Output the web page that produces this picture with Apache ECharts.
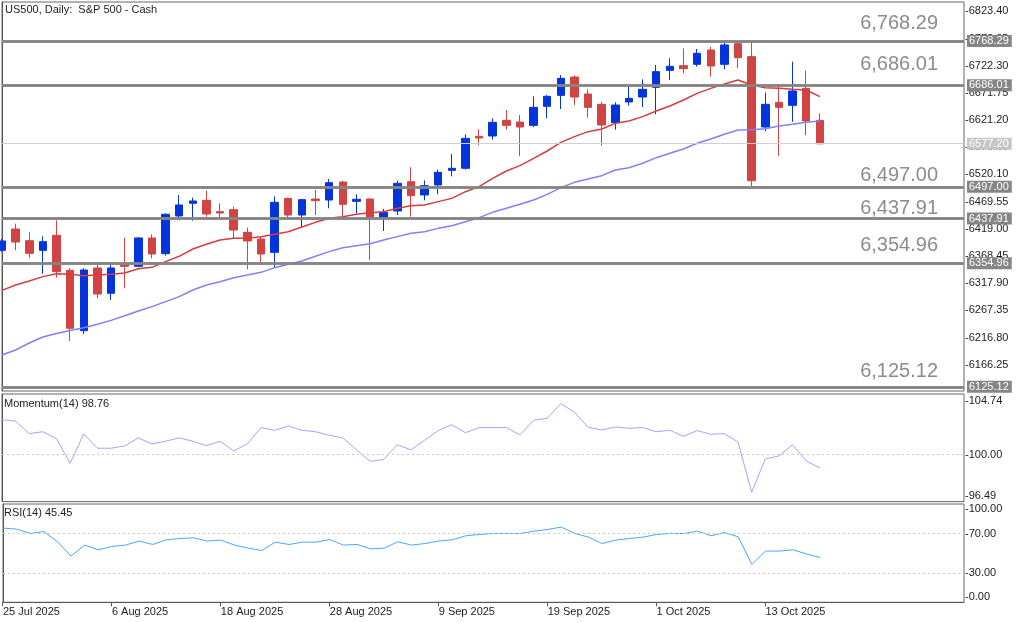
<!DOCTYPE html>
<html>
<head>
<meta charset="utf-8">
<title>US500, Daily</title>
<script src="https://cdn.jsdelivr.net/npm/echarts@6/dist/echarts.min.js"></script>
<style>
  html, body { margin: 0; padding: 0; background: #fff; }
  #chart { width: 1024px; height: 623px; }
</style>
</head>
<body>
<div id="chart"></div>
<script>
// one entry per daily bar
var days = [
  '25 Jul 2025', '28 Jul 2025', '29 Jul 2025', '30 Jul 2025', '31 Jul 2025', '1 Aug 2025',
  '4 Aug 2025', '5 Aug 2025', '6 Aug 2025', '7 Aug 2025', '8 Aug 2025', '11 Aug 2025',
  '12 Aug 2025', '13 Aug 2025', '14 Aug 2025', '15 Aug 2025', '18 Aug 2025', '19 Aug 2025',
  '20 Aug 2025', '21 Aug 2025', '22 Aug 2025', '25 Aug 2025', '26 Aug 2025', '27 Aug 2025',
  '28 Aug 2025', '29 Aug 2025', '1 Sep 2025', '2 Sep 2025', '3 Sep 2025', '4 Sep 2025',
  '5 Sep 2025', '8 Sep 2025', '9 Sep 2025', '10 Sep 2025', '11 Sep 2025', '12 Sep 2025',
  '15 Sep 2025', '16 Sep 2025', '17 Sep 2025', '18 Sep 2025', '19 Sep 2025', '22 Sep 2025',
  '23 Sep 2025', '24 Sep 2025', '25 Sep 2025', '26 Sep 2025', '29 Sep 2025', '30 Sep 2025',
  '1 Oct 2025', '2 Oct 2025', '3 Oct 2025', '6 Oct 2025', '7 Oct 2025', '8 Oct 2025',
  '9 Oct 2025', '10 Oct 2025', '13 Oct 2025', '14 Oct 2025', '15 Oct 2025', '16 Oct 2025',
  '17 Oct 2025'
];

// [open, close, low, high]
var ohlc = [
  [6378.9, 6396.3, 6376.5, 6400.0], [6418.6, 6394.4, 6379.0, 6428.5], [6396.9, 6373.4, 6365.3, 6412.4],
  [6378.9, 6395.1, 6335.5, 6405.0], [6406.8, 6339.3, 6328.1, 6434.7], [6341.8, 6233.9, 6210.3, 6345.5],
  [6229.5, 6342.4, 6223.3, 6345.5], [6346.1, 6297.7, 6289.7, 6351.6], [6299.0, 6346.1, 6286.6, 6354.1],
  [6351.6, 6349.2, 6308.3, 6402.5], [6349.2, 6401.9, 6347.3, 6403.1], [6401.9, 6372.1, 6364.0, 6408.7],
  [6372.7, 6446.0, 6369.0, 6447.8], [6442.8, 6463.3, 6439.7, 6481.9], [6466.4, 6470.7, 6434.1, 6476.9],
  [6471.9, 6446.5, 6441.6, 6489.9], [6450.9, 6448.4, 6439.7, 6466.4], [6454.6, 6416.7, 6401.3, 6460.2],
  [6412.4, 6396.3, 6343.6, 6421.1], [6400.0, 6372.1, 6351.6, 6404.4], [6375.2, 6468.2, 6347.3, 6479.4],
  [6475.6, 6444.6, 6439.7, 6476.9], [6444.6, 6473.2, 6421.1, 6474.4], [6474.4, 6471.3, 6444.6, 6491.1],
  [6472.5, 6504.8, 6457.0, 6511.6], [6506.0, 6464.5, 6441.6, 6508.5], [6470.0, 6473.8, 6447.7, 6483.1],
  [6474.4, 6439.7, 6361.0, 6475.6], [6439.7, 6449.6, 6414.9, 6455.8], [6452.1, 6503.6, 6444.6, 6508.5],
  [6506.6, 6480.6, 6441.6, 6533.3], [6481.9, 6499.2, 6471.9, 6509.1], [6500.5, 6524.0, 6483.1, 6529.0],
  [6527.7, 6531.5, 6516.6, 6558.1], [6531.5, 6587.3, 6529.0, 6594.7], [6591.0, 6587.9, 6574.9, 6604.0],
  [6591.6, 6617.0, 6584.8, 6624.5], [6620.7, 6611.4, 6603.4, 6639.9], [6617.6, 6608.3, 6554.4, 6630.6],
  [6611.4, 6644.9, 6608.3, 6665.4], [6646.8, 6665.4, 6624.5, 6667.9], [6667.2, 6698.8, 6641.8, 6705.0],
  [6701.3, 6664.1, 6649.3, 6704.4], [6669.7, 6644.9, 6625.7, 6678.4], [6650.5, 6612.0, 6573.6, 6655.4],
  [6616.4, 6649.2, 6603.4, 6654.2], [6654.8, 6661.6, 6648.0, 6684.6], [6664.1, 6678.4, 6645.5, 6697.0],
  [6682.1, 6711.3, 6631.9, 6723.6], [6713.7, 6721.2, 6695.7, 6736.1], [6722.4, 6716.8, 6708.1, 6754.6],
  [6724.9, 6745.4, 6720.6, 6753.4], [6751.5, 6721.8, 6701.9, 6757.8], [6724.9, 6760.9, 6715.6, 6765.8],
  [6763.3, 6737.3, 6717.5, 6768.29], [6739.2, 6508.5, 6497.0, 6765.8], [6608.3, 6650.5, 6600.3, 6672.8],
  [6654.2, 6644.9, 6554.4, 6683.4], [6648.6, 6675.3, 6618.2, 6729.9], [6680.2, 6619.5, 6593.4, 6713.1],
  [6620.7, 6577.2, 6576.0, 6633.7]
];

// moving averages (red = fast, violet = slow)
var maFast = [
  6304.5, 6314.5, 6321.9, 6330.0, 6335.5, 6334.3, 6331.8, 6333.0, 6334.3, 6336.8,
  6344.8, 6347.3, 6357.9, 6367.8, 6381.4, 6390.1, 6398.2, 6401.3, 6401.3, 6404.4,
  6408.7, 6413.6, 6422.3, 6431.0, 6438.5, 6441.6, 6445.9, 6449.0, 6450.9, 6457.1,
  6462.0, 6463.3, 6469.5, 6475.6, 6488.0, 6497.4, 6512.9, 6526.5, 6536.4, 6550.1,
  6563.7, 6579.8, 6590.4, 6599.7, 6604.6, 6615.1, 6619.5, 6627.6, 6638.1, 6647.4,
  6658.5, 6670.9, 6680.2, 6688.3, 6695.8, 6686.5, 6681.5, 6680.2, 6678.4, 6677.2,
  6664.8
];
var maSlow = [
  6184.2, 6193.5, 6206.6, 6217.7, 6224.3, 6229.8, 6235.1, 6241.3, 6248.7, 6257.4,
  6266.1, 6274.2, 6283.5, 6292.8, 6305.2, 6314.5, 6320.6, 6328.1, 6333.0, 6338.0,
  6346.7, 6352.9, 6359.1, 6367.8, 6376.5, 6383.9, 6387.6, 6391.3, 6398.2, 6404.4,
  6410.6, 6413.6, 6419.8, 6424.8, 6432.2, 6439.7, 6449.6, 6457.1, 6464.5, 6472.5,
  6483.1, 6495.5, 6505.4, 6511.6, 6517.8, 6528.4, 6532.7, 6540.8, 6551.3, 6559.4,
  6567.4, 6578.0, 6586.0, 6594.7, 6602.8, 6603.4, 6605.2, 6610.2, 6613.3, 6617.0,
  6619.5
];

var momentum = [
  103.25, 103.10, 101.95, 102.13, 101.48, 99.19, 101.92, 100.59, 100.59, 100.80,
  101.55, 100.99, 101.24, 101.55, 101.24, 100.83, 101.24, 100.34, 100.99, 102.51,
  102.26, 102.66, 102.26, 102.13, 101.80, 101.55, 100.46, 99.38, 99.53, 100.92,
  100.43, 101.33, 102.23, 102.78, 102.04, 102.51, 102.51, 102.51, 101.83, 103.19,
  103.38, 104.74, 103.94, 102.54, 102.29, 102.57, 102.45, 102.51, 102.13, 102.26,
  101.70, 102.23, 101.89, 101.95, 101.17, 96.49, 99.59, 99.87, 100.92, 99.41,
  98.76
];
var rsi = [
  75.5, 74.5, 70.0, 72.0, 61.6, 47.0, 58.2, 53.4, 56.8, 58.2,
  62.3, 58.8, 63.6, 64.9, 65.6, 62.3, 63.3, 58.2, 55.1, 52.7,
  61.2, 58.8, 61.2, 61.2, 63.9, 58.2, 58.8, 54.4, 55.1, 61.6,
  58.2, 59.8, 62.3, 63.6, 67.7, 69.0, 70.0, 70.0, 70.0, 72.4,
  74.1, 76.5, 70.0, 66.3, 59.8, 63.3, 64.9, 66.3, 69.0, 70.0,
  70.0, 72.4, 67.7, 71.0, 66.6, 38.5, 52.1, 52.1, 53.4, 49.3,
  45.45
];

// horizontal levels drawn on the price window
var levels = [6768.29, 6686.01, 6497.00, 6437.91, 6354.96, 6125.12];
var lastPrice = 6577.20;

// axis labels
var priceTicks = [6166.25, 6216.80, 6267.35, 6317.90, 6368.45, 6419.00, 6469.55,
  6520.10, 6570.65, 6621.20, 6671.75, 6722.30, 6772.85, 6823.40];
var momentumTicks = [96.49, 100.00, 104.74];
var rsiTicks = [0, 30, 70, 100];
var dateTicks = [0, 8, 16, 24, 32, 40, 48, 56];

var FONT = 'Liberation Sans';
var BAR = 13.63;           // px per bar
var PLOT_W = 962;
var X_MAX = PLOT_W / BAR;
var LAST_TICK = dateTicks[dateTicks.length - 1];
// gap between each level line and its big caption (the captions sit freely above the lines)
var captionGap = [8, 11, 1, 0, 8, 5];

function fmtComma(v) {
  return v.toLocaleString('en-US', { minimumFractionDigits: 2, maximumFractionDigits: 2 });
}

function xAxisFor(gridIndex, showLabels) {
  return {
    type: 'value', gridIndex: gridIndex, min: 0, max: X_MAX,
    splitLine: { show: false },
    axisLine: { show: showLabels, onZero: false, lineStyle: { color: '#555' } },
    axisTick: { show: false },
    axisLabel: {
      show: showLabels, customValues: dateTicks, align: 'left', margin: 4,
      color: '#222', fontSize: 11, fontFamily: FONT,
      formatter: function (v) { return days[Math.round(v)] || ''; }
    }
  };
}

// the short tick before each price is drawn as part of the label
function yAxisFor(gridIndex, min, max, ticks, fmt, rich) {
  return {
    type: 'value', gridIndex: gridIndex, position: 'right', min: min, max: max,
    splitLine: { show: false },
    axisLine: { show: true, lineStyle: { color: '#555' } },
    axisTick: { show: false },
    axisLabel: {
      customValues: ticks, margin: 1, color: '#222', fontSize: 11, fontFamily: FONT,
      formatter: fmt, rich: rich || {}
    }
  };
}

var levelLines = [];
levels.forEach(function (v, i) {
  // big caption above the line
  levelLines.push({
    yAxis: v,
    label: {
      show: true, position: 'insideEndTop', distance: [26, captionGap[i]],
      formatter: fmtComma(v), color: '#8c8c8c', fontSize: 20, fontFamily: FONT
    }
  });
  // price box on the scale
  levelLines.push({
    yAxis: v,
    label: {
      show: true, position: 'end', distance: 3, formatter: v.toFixed(2),
      color: '#fff', backgroundColor: '#858585', fontSize: 11, lineHeight: 12,
      padding: [0, 3, 0, 2], fontFamily: FONT
    }
  });
});
levelLines.push({
  yAxis: lastPrice,
  lineStyle: { color: '#cfcfcf', width: 1 },
  label: {
    show: true, position: 'end', distance: 3, formatter: lastPrice.toFixed(2),
    color: '#fff', backgroundColor: '#c6c6c6', fontSize: 11, lineHeight: 12,
    padding: [0, 3, 0, 2], fontFamily: FONT
  }
});

var chart = echarts.init(document.getElementById('chart'));

var option = {
  animation: false,
  backgroundColor: '#fff',
  textStyle: { fontFamily: FONT },
  title: [
    { text: 'US500, Daily:  S&P 500 - Cash', left: 5, top: 4, padding: 0,
      textStyle: { fontSize: 11, fontWeight: 'normal', color: '#222', fontFamily: FONT } },
    { text: 'Momentum(14) ' + momentum[momentum.length - 1].toFixed(2), left: 4, top: 398, padding: 0,
      textStyle: { fontSize: 11, fontWeight: 'normal', color: '#222', fontFamily: FONT } },
    { text: 'RSI(14) ' + rsi[rsi.length - 1].toFixed(2), left: 4, top: 507, padding: 0,
      textStyle: { fontSize: 11, fontWeight: 'normal', color: '#222', fontFamily: FONT } }
  ],
  grid: [
    { left: 2, top: 2, width: PLOT_W, height: 389, show: true, borderColor: '#666', borderWidth: 1, backgroundColor: '#fff' },
    { left: 2, top: 394, width: PLOT_W, height: 107.6, show: true, borderColor: '#666', borderWidth: 1, backgroundColor: '#fff' },
    { left: 2, top: 504, width: PLOT_W, height: 98.3, show: true, borderColor: '#666', borderWidth: 1, backgroundColor: '#fff' },
    // same scale as the RSI window, only as wide as the last date tick: carries the date ticks
    { left: 2, top: 504, width: LAST_TICK * BAR, height: 98.3, show: false }
  ],
  xAxis: [
    xAxisFor(0, false), xAxisFor(1, false), xAxisFor(2, true),
    {
      type: 'value', gridIndex: 3, min: 0, max: LAST_TICK, interval: 8,
      splitLine: { show: false },
      axisLine: { show: false, onZero: false },
      axisTick: { show: true, length: 4, lineStyle: { color: '#555' } },
      axisLabel: { show: false }
    }
  ],
  yAxis: [
    yAxisFor(0, 6117.29, 6840.83, priceTicks, function (v) { return '-' + v.toFixed(2); }),
    yAxisFor(1, 95.62, 105.64, momentumTicks, function (v) {
      if (v === momentumTicks[2]) return '{up|-' + v.toFixed(2) + '}';
      if (v === momentumTicks[0]) return '{dn|-' + v.toFixed(2) + '}';
      return '-' + v.toFixed(2);
    }, { up: { padding: [0, 0, 6, 0] }, dn: { padding: [8, 0, 0, 0] } }),
    yAxisFor(2, 0, 100, rsiTicks, function (v) {
      if (v === 100) return '{dn|-100.00}';
      if (v === 0) return '{up|-0.00}';
      return '-' + v.toFixed(2);
    }, { up: { padding: [0, 0, 10, 0] }, dn: { padding: [10, 0, 0, 0] } }),
    { type: 'value', gridIndex: 3, show: false }
  ],
  series: [
    {
      name: 'US500', type: 'candlestick', xAxisIndex: 0, yAxisIndex: 0,
      barWidth: 8,
      data: ohlc.map(function (d, i) { return [i, d[0], d[1], d[2], d[3]]; }),
      itemStyle: {
        color: '#0434dc', borderColor: '#0434dc',
        color0: '#d24343', borderColor0: '#d24343', borderWidth: 1
      },
      markLine: {
        silent: true, symbol: ['none', 'none'], animation: false, z: 50,
        lineStyle: { color: '#858585', width: 2.5, type: 'solid' },
        data: levelLines
      }
    },
    {
      name: 'MA fast', type: 'line', xAxisIndex: 0, yAxisIndex: 0, showSymbol: false,
      data: maFast.map(function (v, i) { return [i, v]; }),
      lineStyle: { color: '#d83c3c', width: 1.5 }
    },
    {
      name: 'MA slow', type: 'line', xAxisIndex: 0, yAxisIndex: 0, showSymbol: false,
      data: maSlow.map(function (v, i) { return [i, v]; }),
      lineStyle: { color: '#8080ff', width: 1.5 }
    },
    {
      name: 'Momentum(14)', type: 'line', xAxisIndex: 1, yAxisIndex: 1, showSymbol: false,
      data: momentum.map(function (v, i) { return [i, v]; }),
      lineStyle: { color: '#a4a4ff', width: 1 },
      markLine: {
        silent: true, symbol: ['none', 'none'], animation: false,
        label: { show: false },
        lineStyle: { color: '#c8c8c8', width: 1, type: [2, 3] },
        data: [{ yAxis: 100 }]
      }
    },
    {
      name: 'RSI(14)', type: 'line', xAxisIndex: 2, yAxisIndex: 2, showSymbol: false,
      data: rsi.map(function (v, i) { return [i, v]; }),
      lineStyle: { color: '#4ca6ff', width: 1 },
      markLine: {
        silent: true, symbol: ['none', 'none'], animation: false,
        label: { show: false },
        lineStyle: { color: '#c8c8c8', width: 1, type: [2, 3] },
        data: [{ yAxis: 70 }, { yAxis: 30 }]
      }
    }
  ]
};

chart.setOption(option);
</script>
</body>
</html>
